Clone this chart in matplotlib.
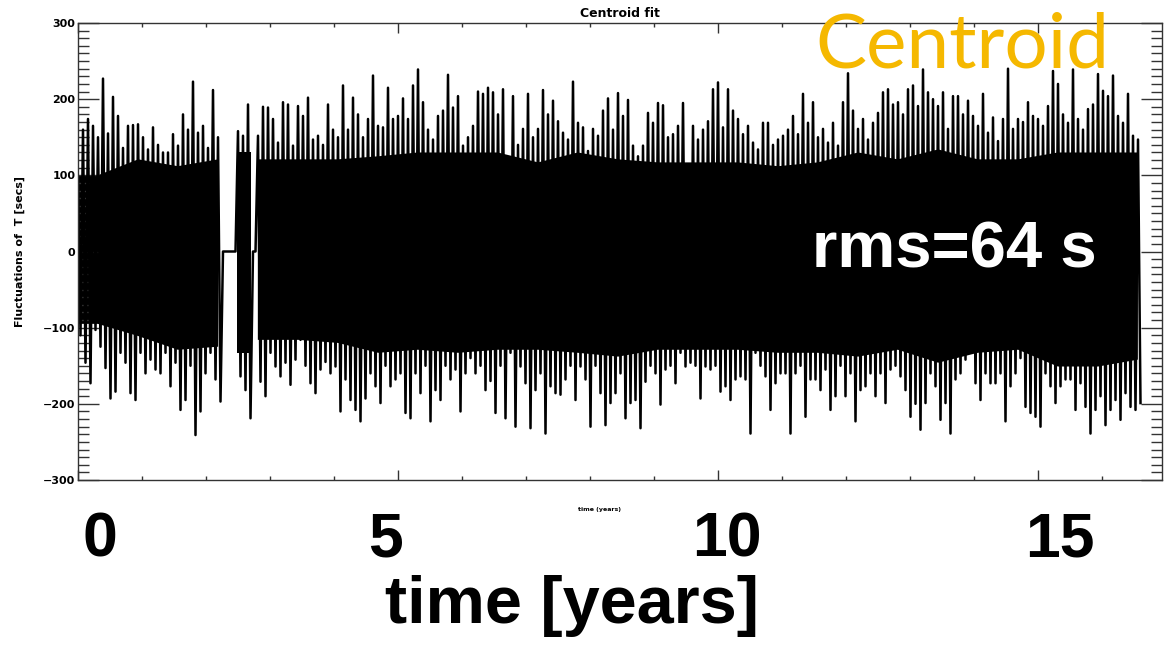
import numpy as np
import matplotlib
matplotlib.use("Agg")
from matplotlib import pyplot as plt
from matplotlib.ticker import MultipleLocator, FuncFormatter

# one sample pair (spike tip up, spike tip down) every 5/64 yr
DT = 5 / 64

# upper spike tips [s]; zeros are the data gaps
fit_hi = [
    95, 160, 174, 165, 150, 227, 155, 203, 178, 136,
    165, 166, 167, 150, 134, 163, 140, 130, 130, 154,
    139, 180, 160, 223, 156, 165, 136, 212, 150,
    0, 0, 0,
    158, 152, 193,
    0,
    152, 190, 189, 174, 143, 196, 193, 139,
    191, 178, 202, 147, 152, 140, 193, 160, 150, 218,
    160, 202, 180, 150, 174, 231, 165, 163, 215, 174,
    178, 201, 174, 218, 239, 196, 160, 147, 178, 185,
    232, 189, 204, 139, 150, 165, 210, 207, 215, 209,
    180, 213, 120,
    204, 140, 161, 207, 150, 161, 212, 180, 198, 171,
    156, 147, 223, 169, 163, 132, 161, 152, 185, 201,
    160, 208, 178, 199, 139, 125, 139, 182, 169, 195,
    192, 150, 154, 165, 195, 100, 165, 147, 160, 171,
    213, 222, 163,
    213, 185, 174, 154, 165, 143, 134, 169, 169, 140,
    147, 152, 160, 178, 154, 207, 169, 196, 150, 161,
    143, 169, 139, 196, 234, 185, 161, 174, 147, 169,
    182, 209, 213, 193, 196, 180, 213, 218, 191, 239,
    209, 200, 191,
    209, 161, 204, 204, 180, 198, 178, 165, 207, 156,
    176, 145, 174, 240, 161, 174, 170, 196, 178, 174,
    165, 191, 237, 220, 180, 169, 239, 174, 160, 187,
    193, 233, 211, 204, 231, 178, 169, 207, 152, 147,
]

# lower spike tips [s]
fit_lo = [
    -110, -146, -173, -103, -125, -153, -193, -184, -133, -146,
    -186, -195, -133, -160, -142, -155, -160, -133, -177, -146,
    -208, -195, -150, -241, -210, -160, -133, -168, -197,
    0, 0, 0,
    -164, -182, -219,
    0,
    -171, -190, -133, -151, -164, -146, -175, -142,
    -116, -150, -173, -186, -155, -145, -160, -151, -210, -168,
    -195, -208, -223, -193, -160, -177, -199, -150, -177, -168,
    -160, -212, -219, -160, -186, -150, -223, -182, -195, -150,
    -168, -155, -210, -160, -140, -160, -150, -182, -170, -212,
    -150, -219, -133,
    -230, -151, -173, -232, -182, -160, -239, -177, -186, -188,
    -168, -150, -195, -151, -168, -230, -150, -186, -228, -199,
    -186, -160, -219, -199, -195, -232, -171, -150, -160, -201,
    -155, -150, -173, -133, -151, -146, -150, -193, -151, -155,
    -150, -184, -177,
    -195, -168, -164, -168, -239, -133, -150, -164, -208, -173,
    -160, -160, -239, -160, -150, -217, -168, -168, -182, -155,
    -208, -190, -150, -190, -160, -223, -182, -177, -160, -190,
    -160, -199, -155, -150, -164, -182, -217, -200, -234, -199,
    -160, -177, -221,
    -199, -239, -168, -160, -142, -133, -173, -195, -160, -173,
    -173, -160, -223, -177, -160, -140, -204, -212, -217, -230,
    -160, -177, -199, -177, -168, -168, -208, -173, -204, -239,
    -208, -190, -228, -208, -195, -221, -186, -204, -208, -199,
]

# edge of the solid black band (years, upper, lower); None breaks at the gaps
core_t = [0.0, 0.31, 0.94, 1.56, 2.19, None,
          2.48, 2.70, None,
          2.81, 3.44, 4.06, 4.69, 5.31, 5.94, 6.56, 7.19, 7.81, 8.44, 9.06,
          9.69, 10.31, 10.94, 11.56, 12.19, 12.81, 13.44, 14.06, 14.69,
          15.31, 15.94, 16.56]
core_hi = [100, 100, 121, 112, 121, None,
           130, 130, None,
           121, 121, 121, 125, 130, 130, 130, 117, 130, 121, 117,
           117, 117, 112, 117, 130, 121, 134, 121, 121,
           130, 130, 130]
core_lo = [-95, -95, -111, -129, -125, None,
           -133, -133, None,
           -116, -116, -120, -133, -129, -133, -129, -129, -133, -138, -129,
           -129, -129, -133, -133, -138, -129, -146, -133, -129,
           -151, -151, -142]

year_labels = ["0", "5", "10", "15"]

W, H = 1164, 646
fig = plt.figure(figsize=(W / 100, H / 100), dpi=100)
ax = fig.add_axes([78 / W, 1 - 480 / H, (1162 - 78) / W, (480 - 23) / H])

hi = np.array(fit_hi, dtype=float)
lo = np.array(fit_lo, dtype=float)
t = np.arange(len(hi)) * DT
tz = np.column_stack([t, t + DT / 2]).ravel()
yz = np.column_stack([hi, lo]).ravel()

ct = np.array(core_t, dtype=float)
ax.fill_between(ct, np.array(core_lo, dtype=float),
                np.array(core_hi, dtype=float), color="black", lw=0)
ax.plot(tz, yz, color="black", lw=1.8)

ax.set_xlim(0, (1162 - 78) / 64)
ax.set_ylim(-300, 300)

# IDL style frame: inward ticks on all four sides
ax.xaxis.set_major_locator(MultipleLocator(5))
ax.xaxis.set_minor_locator(MultipleLocator(1))
ax.yaxis.set_major_locator(MultipleLocator(100))
ax.yaxis.set_minor_locator(MultipleLocator(10))
ax.tick_params(which="both", direction="in", top=True, right=True,
               labelbottom=False, color="#333333", width=1.0)
ax.tick_params(axis="x", which="major", length=7)
ax.tick_params(axis="x", which="minor", length=3)
ax.tick_params(axis="y", which="major", length=15, pad=2, labelsize=8)
ax.tick_params(axis="y", which="minor", length=8)
ax.yaxis.set_major_formatter(FuncFormatter(
    lambda v, p: f"{v:.0f}".replace("-", "\u2212")))
for lab in ax.get_yticklabels():
    lab.set_fontweight("bold")
for sp in ax.spines.values():
    sp.set_linewidth(1.0)
    sp.set_color("#333333")

ax.set_ylabel("Fluctuations of  T [secs]", fontsize=8, fontweight="bold")
ax.yaxis.set_label_coords(-0.049, 0.5)
ax.set_title("Centroid fit", fontsize=9, fontweight="bold", pad=4)
fig.text(600 / W, 1 - 510 / H, "time (years)", fontsize=4.5,
         fontweight="bold", ha="center", va="center")

# slide overlay
big = dict(family="Liberation Sans", fontweight="bold", color="black",
           ha="center", va="center")
for lab, xp in zip(year_labels, [100, 385, 727, 1060]):
    fig.text(xp / W, 1 - 540 / H, lab, fontsize=45, **big)
fig.text(572 / W, 1 - 606 / H, "time [years]", fontsize=48, **big)

fig.text(815 / W, 1 - 67 / H, "Centroid", family="Lato", fontsize=55,
         color="#F5B800", ha="left", va="baseline")
fig.text(812 / W, 1 - 268 / H, "rms=64 s", family="Liberation Sans",
         fontweight="bold", fontsize=47, color="white",
         ha="left", va="baseline")

fig.savefig("out.png", dpi=100)
